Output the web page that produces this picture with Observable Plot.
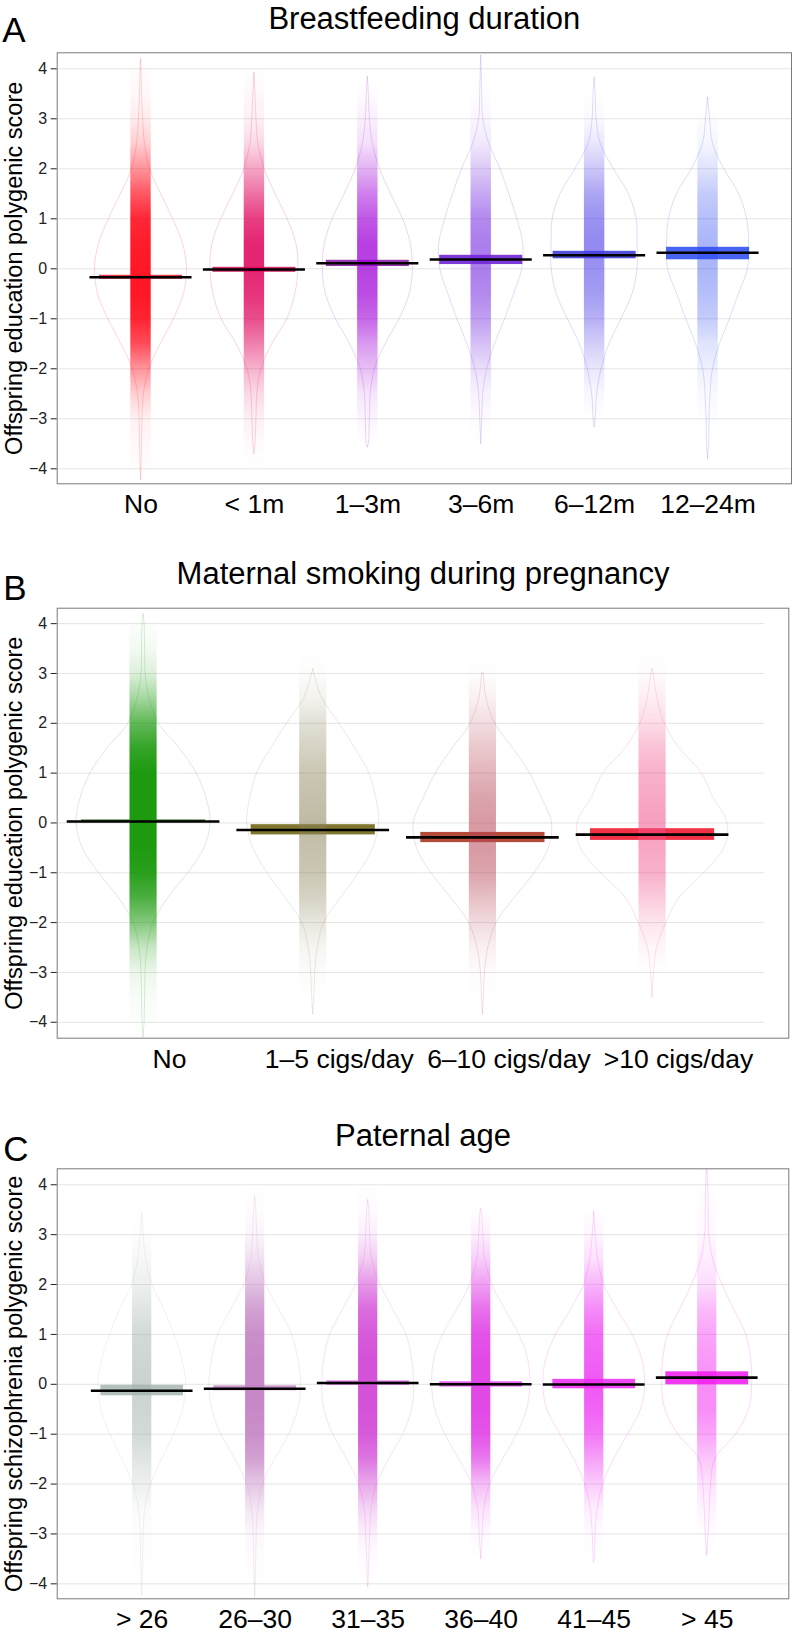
<!DOCTYPE html>
<html><head><meta charset="utf-8">
<script src="https://cdn.jsdelivr.net/npm/d3@7"></script>
<script src="https://cdn.jsdelivr.net/npm/@observablehq/plot@0.6"></script>
<style>
body{margin:0;background:#fff;font-family:"Liberation Sans",Arial,sans-serif;}
#chart svg{display:block}
</style></head><body>
<svg width="0" height="0" style="position:absolute"><defs id="gdefs"></defs></svg>
<div id="chart"></div>
<script>
// ---------- shared ----------
const levels = [-4,-3.5,-3,-2.5,-2,-1.5,-1,-0.5,0,0.5,1,1.5,2,2.5,3,3.5,4];
const yTicks = [-4,-3,-2,-1,0,1,2,3,4];

// ---------- Panel A: Breastfeeding duration ----------
const catsA = ["No","< 1m","1–3m","3–6m","6–12m","12–24m"];
const meanA = [-0.17,-0.015,0.11,0.186,0.27,0.32];
const ciLowA = [-0.21,-0.07,0.045,0.085,0.2,0.18];
const ciHighA = [-0.13,0.03,0.17,0.27,0.35,0.43];
const tipLowA = [-4.22,-3.7,-3.57,-3.5,-3.17,-3.8];
const tipHighA = [4.2,3.93,3.85,4.27,3.83,3.43];
const beanA = [
  [0.004,0.009,0.013,0.026,0.075,0.176,0.291,0.379,0.406,0.37,0.282,0.176,0.079,0.035,0.018,0.009,0.004],
  [0,0.009,0.018,0.026,0.062,0.159,0.291,0.362,0.388,0.37,0.291,0.185,0.088,0.035,0.018,0.009,0],
  [0,0.009,0.018,0.026,0.062,0.159,0.282,0.37,0.397,0.379,0.309,0.203,0.106,0.044,0.018,0.009,0],
  [0,0,0.009,0.018,0.053,0.123,0.212,0.291,0.362,0.37,0.317,0.247,0.168,0.071,0.018,0.009,0.004],
  [0,0,0.009,0.022,0.062,0.132,0.238,0.335,0.379,0.379,0.37,0.3,0.168,0.053,0.018,0.009,0],
  [0,0.009,0.013,0.022,0.044,0.106,0.194,0.273,0.353,0.362,0.344,0.273,0.141,0.044,0.018,0,0]
];
const dotAlphaA = [
  [0.01,0.03,0.06,0.2,0.45,0.75,0.92,0.97,0.97,0.95,0.9,0.7,0.45,0.2,0.08,0.03,0.01],
  [0,0.02,0.06,0.15,0.3,0.5,0.7,0.8,0.85,0.85,0.75,0.55,0.35,0.15,0.06,0.03,0],
  [0,0,0.04,0.1,0.25,0.4,0.6,0.7,0.75,0.75,0.65,0.5,0.3,0.12,0.06,0.01,0],
  [0,0,0.02,0.06,0.15,0.3,0.45,0.55,0.6,0.6,0.55,0.4,0.25,0.1,0.04,0.01,0],
  [0,0,0,0.04,0.12,0.25,0.4,0.5,0.55,0.6,0.55,0.45,0.28,0.12,0.03,0,0],
  [0,0,0.01,0.03,0.08,0.15,0.28,0.35,0.4,0.4,0.35,0.28,0.15,0.05,0.01,0,0]
];
const dotColorA = ["#ff1020","#e0005a","#a000d8","#7428e0","#4a3ae6","#2d48f0"];
const barColorA = ["#e8162e","#d0105a","#8a1ca6","#6a20d0","#3a3ad8","#2e4ef0"];

// ---------- Panel B: Maternal smoking during pregnancy ----------
const catsB = ["No","1–5 cigs/day","6–10 cigs/day",">10 cigs/day"];
const meanB = [0.03,-0.14,-0.29,-0.235];
const ciLowB = [0.01,-0.24,-0.395,-0.35];
const ciHighB = [0.06,-0.035,-0.19,-0.115];
const tipLowB = [-4.3,-3.84,-3.84,-3.5];
const tipHighB = [4.2,3.09,3.02,3.09];
const beanB = [
  [0.006,0.009,0.012,0.024,0.059,0.147,0.265,0.359,0.395,0.371,0.312,0.212,0.088,0.035,0.012,0.009,0.006],
  [0,0.006,0.012,0.027,0.065,0.165,0.271,0.354,0.389,0.371,0.33,0.247,0.153,0.053,0.006,0,0],
  [0,0.006,0.012,0.032,0.082,0.189,0.306,0.389,0.407,0.348,0.277,0.177,0.071,0.021,0.003,0,0],
  [0,0,0.009,0.027,0.082,0.159,0.306,0.424,0.442,0.359,0.289,0.159,0.071,0.029,0.006,0,0]
];
const dotAlphaB = [
  [0.01,0.03,0.08,0.25,0.55,0.8,0.95,1,1,1,1,0.9,0.7,0.4,0.15,0.05,0.01],
  [0,0,0.03,0.08,0.2,0.35,0.45,0.5,0.55,0.5,0.45,0.35,0.25,0.1,0.02,0,0],
  [0,0,0.02,0.08,0.2,0.35,0.5,0.55,0.55,0.5,0.4,0.3,0.18,0.08,0.01,0,0],
  [0,0,0,0.05,0.15,0.3,0.45,0.5,0.55,0.5,0.45,0.35,0.2,0.1,0.02,0,0]
];
const dotColorB = ["#1e9a10","#8a8258","#b84858","#f0508a"];
const barColorB = ["#1a5c10","#6e6412","#a8321c","#f0142c"];

// ---------- Panel C: Paternal age ----------
const catsC = ["> 26","26–30","31–35","36–40","41–45","> 45"];
const meanC = [-0.13,-0.09,0.026,0.0,-0.005,0.133];
const ciLowC = [-0.23,-0.13,-0.02,-0.055,-0.09,-0.01];
const ciHighC = [-0.02,-0.03,0.066,0.05,0.1,0.25];
const tipLowC = [-4.23,-4.3,-4.07,-3.5,-3.57,-3.43];
const tipHighC = [3.43,3.77,3.7,3.53,3.47,4.4];
const beanC = [
  [0.004,0.009,0.013,0.027,0.08,0.177,0.283,0.363,0.389,0.354,0.283,0.195,0.088,0.035,0.013,0,0],
  [0.004,0.009,0.013,0.027,0.071,0.177,0.301,0.381,0.407,0.381,0.327,0.212,0.097,0.035,0.018,0.009,0],
  [0.003,0.009,0.018,0.031,0.08,0.186,0.31,0.389,0.407,0.389,0.336,0.221,0.106,0.035,0.018,0.009,0],
  [0,0,0.013,0.027,0.08,0.195,0.319,0.407,0.434,0.416,0.336,0.212,0.097,0.035,0.018,0.004,0],
  [0,0.004,0.013,0.031,0.08,0.177,0.301,0.416,0.451,0.425,0.336,0.204,0.088,0.035,0.013,0,0],
  [0,0,0.013,0.022,0.035,0.071,0.257,0.372,0.398,0.389,0.345,0.239,0.133,0.053,0.018,0.013,0.009]
];
const dotAlphaC = [
  [0,0.02,0.03,0.06,0.2,0.35,0.5,0.55,0.6,0.55,0.5,0.35,0.2,0.1,0.02,0,0],
  [0,0.02,0.06,0.2,0.45,0.75,0.9,0.95,0.95,0.95,0.9,0.75,0.5,0.25,0.08,0.02,0],
  [0,0.02,0.08,0.25,0.5,0.8,0.95,1,1,1,0.95,0.85,0.6,0.3,0.1,0.02,0],
  [0,0,0.03,0.15,0.35,0.7,0.9,0.95,0.95,0.95,0.9,0.75,0.5,0.25,0.08,0,0],
  [0,0,0.02,0.08,0.25,0.45,0.65,0.75,0.8,0.75,0.7,0.55,0.35,0.15,0.05,0,0],
  [0,0,0.01,0.05,0.12,0.25,0.4,0.5,0.5,0.45,0.4,0.3,0.15,0.08,0.03,0.02,0]
];
const dotColorC = ["#a6b4ae","#c482c4","#d452d8","#e040e6","#ec2ef2","#f21cf0"];
const barColorC = ["#a8b8b0","#c88ac8","#d456d8","#e448ea","#ee30f2","#f21ef0"];

// ---------- rendering ----------
const NS = "http://www.w3.org/2000/svg";
const gdefs = document.getElementById("gdefs");
function addGradient(id, color, alphas) {
  const g = document.createElementNS(NS, "linearGradient");
  g.setAttribute("id", id);
  g.setAttribute("x1", "0"); g.setAttribute("y1", "0");
  g.setAttribute("x2", "0"); g.setAttribute("y2", "1");
  const top = levels[levels.length - 1], bot = levels[0];
  for (let k = levels.length - 1; k >= 0; k--) {
    const s = document.createElementNS(NS, "stop");
    s.setAttribute("offset", ((top - levels[k]) / (top - bot)).toFixed(4));
    s.setAttribute("stop-color", color);
    s.setAttribute("stop-opacity", alphas[k]);
    g.appendChild(s);
  }
  gdefs.appendChild(g);
}

const FONT = "'Liberation Sans', Arial, Helvetica, sans-serif";
const fmtTick = d => d < 0 ? "\u2212" + Math.abs(d) : String(d);

function panel(cfg) {
  const n = cfg.cats.length;
  const idx = d3.range(n);
  const rows = idx.map(i => ({i, mean: cfg.mean[i], lo: cfg.lo[i], hi: cfg.hi[i]}));
  const marks = [];
  // grid
  marks.push(Plot.ruleY(yTicks, cfg.gridEnd == null
    ? {stroke: "#e4e4e4", strokeWidth: 1}
    : {x1: cfg.xDomain[0], x2: cfg.gridEnd, stroke: "#e4e4e4", strokeWidth: 1}));
  // beans (violins)
  idx.forEach(i => {
    const pts = [{y: cfg.tipLow[i], hw: 0}];
    levels.forEach((l, k) => { if (l > cfg.tipLow[i] && l < cfg.tipHigh[i]) pts.push({y: l, hw: cfg.bean[i][k]}); });
    pts.push({y: cfg.tipHigh[i], hw: 0});
    marks.push(Plot.areaX(pts, {
      y: "y", x1: d => i - d.hw, x2: d => i + d.hw,
      fill: "none", stroke: cfg.dotColor[i], strokeOpacity: 0.22, strokeWidth: 0.8,
      curve: "catmull-rom", clip: true
    }));
  });
  // CI bands
  idx.forEach(i => {
    marks.push(Plot.rect([rows[i]], {
      x1: d => d.i - 0.366, x2: d => d.i + 0.366, y1: "lo", y2: "hi",
      fill: cfg.barColor[i], fillOpacity: 0.88
    }));
  });
  // jittered points, drawn as a density strip
  idx.forEach(i => {
    const id = `grad${cfg.key}${i}`;
    addGradient(id, cfg.dotColor[i], cfg.dotAlpha[i]);
    marks.push(Plot.rect([i], {
      x1: d => d - cfg.jw, x2: d => d + cfg.jw,
      y1: levels[0], y2: levels[levels.length - 1],
      fill: `url(#${id})`
    }));
  });
  // means
  marks.push(Plot.ruleY(rows, {
    x1: d => d.i - 0.45, x2: d => d.i + 0.45, y: "mean",
    stroke: "#000", strokeWidth: 2.6
  }));
  marks.push(Plot.frame({stroke: "#7a7a7a", strokeWidth: 1}));
  marks.push(Plot.axisY(yTicks, {tickSize: 6, tickPadding: 4, fontSize: 16, label: null,
    tickFormat: fmtTick, color: "#222"}));
  marks.push(Plot.axisX(idx, {tickSize: 0, tickPadding: 10.5, fontSize: 26.5, label: null,
    tickFormat: i => cfg.cats[i], dx: cfg.labelDx, color: "#000"}));
  // texts
  marks.push(Plot.text([cfg.title], {text: d => d, frameAnchor: "top", dy: cfg.titleDy,
    lineAnchor: "bottom", fontSize: 31, fill: "#000"}));
  marks.push(Plot.text([cfg.letter], {text: d => d, frameAnchor: "top-left", textAnchor: "start",
    dx: cfg.letterDx, dy: cfg.letterDy, lineAnchor: "bottom", fontSize: 35, fill: "#000"}));
  marks.push(Plot.text([cfg.ylabel], {text: d => d, frameAnchor: "left", rotate: -90, dx: -35,
    lineAnchor: "bottom", textAnchor: "middle", fontSize: 23.5, fill: "#000"}));

  return Plot.plot({
    width: 793, height: cfg.height,
    marginTop: cfg.marginTop, marginBottom: cfg.marginBottom,
    marginLeft: 56.7, marginRight: cfg.marginRight,
    x: {type: "linear", domain: cfg.xDomain},
    y: {type: "linear", domain: cfg.yDomain},
    style: {fontFamily: FONT, background: "#fff", overflow: "visible"},
    marks
  });
}

const chart = document.getElementById("chart");
chart.appendChild(panel({
  key: "A", cats: catsA, mean: meanA, lo: ciLowA, hi: ciHighA, tipLow: tipLowA, tipHigh: tipHighA,
  bean: beanA, dotAlpha: dotAlphaA, dotColor: dotColorA, barColor: barColorA,
  height: 545, marginTop: 52.3, marginBottom: 61.7, marginRight: 2,
  xDomain: [-0.739, 5.736], yDomain: [-4.30, 4.32], gridEnd: null, labelDx: 0, jw: 0.09,
  title: "Breastfeeding duration", letter: "A", ylabel: "Offspring education polygenic score",
  titleDy: -24.3, letterDy: -11.3, letterDx: -55
}));
chart.appendChild(panel({
  key: "B", cats: catsB, mean: meanB, lo: ciLowB, hi: ciHighB, tipLow: tipLowB, tipHigh: tipHighB,
  bean: beanB, dotAlpha: dotAlphaB, dotColor: dotColorB, barColor: barColorB,
  height: 555, marginTop: 62.7, marginBottom: 62.3, marginRight: 4.7,
  xDomain: [-0.509, 3.803], yDomain: [-4.32, 4.31], gridEnd: 3.66, labelDx: 26, jw: 0.08,
  title: "Maternal smoking during pregnancy", letter: "B", ylabel: "Offspring education polygenic score",
  titleDy: -24.7, letterDy: -8.7, letterDx: -54
}));
chart.appendChild(panel({
  key: "C", cats: catsC, mean: meanC, lo: ciLowC, hi: ciHighC, tipLow: tipLowC, tipHigh: tipHighC,
  bean: beanC, dotAlpha: dotAlphaC, dotColor: dotColorC, barColor: barColorC,
  height: 532, marginTop: 68.3, marginBottom: 33.7, marginRight: 4.7,
  xDomain: [-0.752, 5.722], yDomain: [-4.30, 4.32], gridEnd: null, labelDx: 0, jw: 0.085,
  title: "Paternal age", letter: "C", ylabel: "Offspring schizophrenia polygenic score",
  titleDy: -23.3, letterDy: -8.3, letterDx: -54
}));
</script>
</body></html>
